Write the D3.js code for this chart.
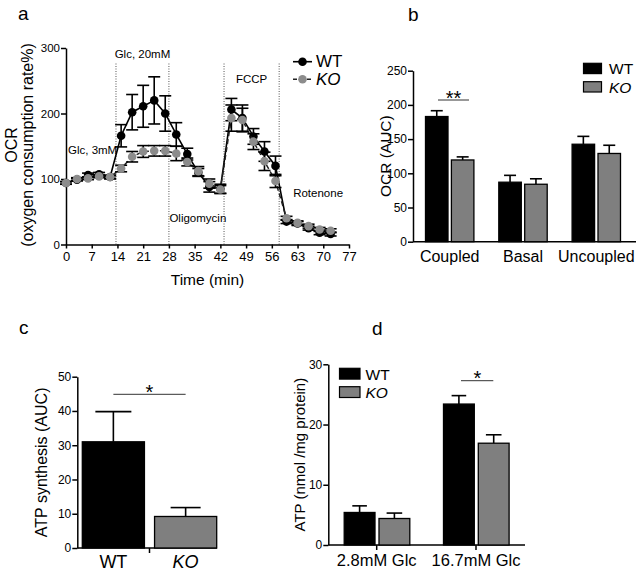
<!DOCTYPE html>
<html><head><meta charset="utf-8">
<script src="https://cdn.jsdelivr.net/npm/d3@7"></script>
<style>
body{margin:0;background:#fff}
svg{display:block;font-family:"Liberation Sans",Arial,Helvetica,sans-serif}
</style>
</head><body>
<svg id="chart" width="640" height="574"></svg>
<script>
// ---------- Panel a data ----------
const timeA   = [0,3,6,9,12, 15,18,21,24,27, 30,33,36,39,42, 45,48,51,54,57, 60,63,66,69,72];
const wtA     = [94,99,106,107,103, 166,202,211,220,200, 168,138,110,88,85, 206,193,165,142,120, 35,32,25,18,16];
const wtErrA  = [2,2,3,3,3, 17,27,32,36,27, 18,9,6,8,7, 17,20,12,15,15, 3,3,3,3,3];
const koA     = [94,100,101,104,103, 116,134,142,143,143, 139,126,112,93,84, 193,190,157,127,97, 40,33,28,23,21];
const koErrA  = [2,2,2,2,2, 5,8,9,8,8, 11,6,7,7,6, 20,18,12,14,10, 3,3,3,3,3];
const xTicksA = [0,7,14,21,28,35,42,49,56,63,70,77];
const yTicksA = [0,100,200,300];
const eventTimesA = [13.6, 28, 43, 58];

// ---------- Panel b data ----------
const catsB   = ["Coupled","Basal","Uncoupled"];
const wtB     = [183, 87, 142.5];
const wtErrB  = [8.5, 10, 11.5];
const koB     = [119.5, 84, 129];
const koErrB  = [4.5, 8, 12];
const yTicksB = [0,50,100,150,200,250];

// ---------- Panel c data ----------
const catsC   = ["WT","KO"];
const valsC   = [31, 9.2];
const errC    = [8.8, 2.6];
const yTicksC = [0,10,20,30,40,50];

// ---------- Panel d data ----------
const catsD   = ["2.8mM Glc","16.7mM Glc"];
const wtD     = [5.4, 23.4];
const wtErrD  = [1.1, 1.4];
const koD     = [4.4, 16.9];
const koErrD  = [0.9, 1.4];
const yTicksD = [0,10,20,30];

const BLACK = "#000", GREY = "#7f7f7f", MGREY = "#8c8c8c";
const FONT = '"Liberation Sans",Arial,Helvetica,sans-serif';
const svg = d3.select("#chart");

function styleAxis(g, fs){
  g.attr("font-family", FONT).attr("font-size", fs);
  g.select(".domain").attr("stroke", BLACK).attr("stroke-width", 1.5);
  g.selectAll(".tick line").attr("stroke", BLACK).attr("stroke-width", 1.5);
  g.selectAll(".tick text").attr("fill", BLACK);
}
function txt(g, x, y, s, fs, opts = {}){
  const t = g.append("text").attr("x", x).attr("y", y).attr("font-size", fs)
    .attr("fill", BLACK).attr("text-anchor", opts.anchor || "start").text(s);
  if (opts.italic) t.attr("font-style", "italic");
  if (opts.rot) t.attr("transform", `rotate(-90,${x},${y})`);
  return t;
}

// ================= Panel a =================
const xa = d3.scaleLinear().domain([0,77]).range([66,349]);
const ya = d3.scaleLinear().domain([0,300]).range([244.5,48]);
const gA = svg.append("g");

gA.selectAll("line.ev").data(eventTimesA).join("line")
  .attr("x1", d=>xa(d)).attr("x2", d=>xa(d))
  .attr("y1", ya(0)).attr("y2", ya(278))
  .attr("stroke", "#555").attr("stroke-width", 1).attr("stroke-dasharray", "1,1.5");

gA.append("g").attr("transform", `translate(0,${ya(0)})`)
  .call(d3.axisBottom(xa).tickValues(xTicksA).tickSize(4).tickSizeOuter(0).tickPadding(3))
  .call(g=>styleAxis(g,13));
gA.append("g").attr("transform", `translate(${xa(0)},0)`)
  .call(d3.axisLeft(ya).tickValues(yTicksA).tickSize(5).tickSizeOuter(0).tickPadding(1))
  .call(g=>styleAxis(g,11.5));

const ptsWT = timeA.map((t,i)=>({t, v:wtA[i], e:wtErrA[i]}));
const ptsKO = timeA.map((t,i)=>({t, v:koA[i], e:koErrA[i]}));
const lineA = d3.line().x(d=>xa(d.t)).y(d=>ya(d.v));

function errBars(g, pts, hw){
  g.selectAll(null).data(pts).join("line")
    .attr("x1", d=>xa(d.t)).attr("x2", d=>xa(d.t))
    .attr("y1", d=>ya(d.v-d.e)).attr("y2", d=>ya(d.v+d.e))
    .attr("stroke", BLACK).attr("stroke-width", 1.6);
  [1,-1].forEach(s=>{
    g.selectAll(null).data(pts).join("line")
      .attr("x1", d=>xa(d.t)-hw).attr("x2", d=>xa(d.t)+hw)
      .attr("y1", d=>ya(d.v+s*d.e)).attr("y2", d=>ya(d.v+s*d.e))
      .attr("stroke", BLACK).attr("stroke-width", 1.6);
  });
}
gA.append("path").datum(ptsWT).attr("d", lineA).attr("fill","none").attr("stroke",BLACK).attr("stroke-width",1.6);
errBars(gA.append("g"), ptsWT, 6);
gA.append("g").selectAll("circle").data(ptsWT).join("circle")
  .attr("cx", d=>xa(d.t)).attr("cy", d=>ya(d.v)).attr("r", 4.3).attr("fill", BLACK);
gA.append("path").datum(ptsKO).attr("d", lineA).attr("fill","none").attr("stroke","#222")
  .attr("stroke-width",1.5).attr("stroke-dasharray","5,3");
errBars(gA.append("g"), ptsKO, 6);
gA.append("g").selectAll("circle").data(ptsKO).join("circle")
  .attr("cx", d=>xa(d.t)).attr("cy", d=>ya(d.v)).attr("r", 4.3).attr("fill", MGREY);

txt(gA, xa(0)+2, ya(138), "Glc, 3mM", 11.5);
txt(gA, (xa(13.6)+xa(28))/2, ya(284), "Glc, 20mM", 11.5, {anchor:"middle"});
txt(gA, (xa(43)+xa(58))/2, ya(246), "FCCP", 11.5, {anchor:"middle"});
txt(gA, xa(28)+0.5, ya(35), "Oligomycin", 11.5);
txt(gA, xa(58)+14, ya(73), "Rotenone", 11.5);

[[61.7,"WT",BLACK,null,false],[79.3,"KO",MGREY,"4,3",true]].forEach(([y,lab,col,dash,it])=>{
  gA.append("line").attr("x1",293).attr("x2",312).attr("y1",y).attr("y2",y)
    .attr("stroke", dash? "#222":BLACK).attr("stroke-width",1.6).attr("stroke-dasharray",dash);
  gA.append("circle").attr("cx",302.5).attr("cy",y).attr("r",4.3).attr("fill",col);
  txt(gA, 316, y+5.5, lab, 17, {italic:it});
});

txt(gA, 17, 145, "OCR", 16, {anchor:"middle", rot:true});
txt(gA, 33, 145, "(oxygen consumption rate%)", 16, {anchor:"middle", rot:true});
txt(gA, (xa(0)+xa(77))/2, 285, "Time (min)", 15.5, {anchor:"middle"});
txt(svg, 18, 20, "a", 19);

// ================= Panel b =================
const yb = d3.scaleLinear().domain([0,250]).range([241.7,70.7]);
const xb = d3.scalePoint().domain(catsB).range([449.7,596.3]);
const gB = svg.append("g");
const bwB = 22.5, gapB = 1.7;

gB.append("g").attr("transform", `translate(413,0)`)
  .call(d3.axisLeft(yb).tickValues(yTicksB).tickSize(5).tickSizeOuter(0).tickPadding(1))
  .call(g=>styleAxis(g,12));
gB.append("line").attr("x1",413).attr("x2",636).attr("y1",yb(0)).attr("y2",yb(0))
  .attr("stroke",BLACK).attr("stroke-width",1.5);

function barsGrouped(g, cats, xs, ys, vals, errs, off, bw, fill, hw){
  cats.forEach((c,i)=>{
    const x0 = xs(c)+off;
    g.append("line").attr("x1",x0+bw/2).attr("x2",x0+bw/2)
      .attr("y1",ys(vals[i])).attr("y2",ys(vals[i]+errs[i])).attr("stroke",BLACK).attr("stroke-width",1.6);
    g.append("line").attr("x1",x0+bw/2-hw).attr("x2",x0+bw/2+hw)
      .attr("y1",ys(vals[i]+errs[i])).attr("y2",ys(vals[i]+errs[i])).attr("stroke",BLACK).attr("stroke-width",1.6);
    g.append("rect").attr("x",x0).attr("y",ys(vals[i])).attr("width",bw)
      .attr("height",ys(0)-ys(vals[i])).attr("fill",fill).attr("stroke",BLACK).attr("stroke-width",1.3);
  });
}
barsGrouped(gB, catsB, xb, yb, wtB, wtErrB, -gapB-bwB, bwB, BLACK, 6);
barsGrouped(gB, catsB, xb, yb, koB, koErrB, gapB, bwB, GREY, 6);
catsB.forEach(c=>txt(gB, xb(c), 262, c, 16, {anchor:"middle"}));

gB.append("line").attr("x1",438).attr("x2",469).attr("y1",100).attr("y2",100).attr("stroke","#333").attr("stroke-width",1);
txt(gB, 453.5, 104.7, "**", 20, {anchor:"middle"});

[[63.3,"WT",BLACK,false],[81.7,"KO",GREY,true]].forEach(([y,lab,col,it])=>{
  gB.append("rect").attr("x",583.5).attr("y",y).attr("width",18).attr("height",10.3)
    .attr("fill",col).attr("stroke",BLACK).attr("stroke-width",1.2);
  txt(gB, 609, y+10.8, lab, 15.5, {italic:it});
});
txt(gB, 391, (yb(0)+yb(250))/2, "OCR (AUC)", 15.5, {anchor:"middle", rot:true});
txt(svg, 408, 21, "b", 19);

// ================= Panel c =================
const yc = d3.scaleLinear().domain([0,50]).range([548,376.7]);
const xc = d3.scaleBand().domain(catsC).range([82.3,216.7]).paddingInner(0.14).paddingOuter(0);
const gC = svg.append("g");
gC.append("g").attr("transform", `translate(77.3,0)`)
  .call(d3.axisLeft(yc).tickValues(yTicksC).tickSize(5).tickSizeOuter(0).tickPadding(1))
  .call(g=>styleAxis(g,12));
gC.append("line").attr("x1",77.3).attr("x2",217).attr("y1",yc(0)).attr("y2",yc(0))
  .attr("stroke",BLACK).attr("stroke-width",1.5);
const midC = (xc("WT")+xc.bandwidth()+xc("KO"))/2;
gC.append("line").attr("x1",midC).attr("x2",midC).attr("y1",yc(0)).attr("y2",yc(0)+5)
  .attr("stroke",BLACK).attr("stroke-width",1.5);
catsC.forEach((c,i)=>{
  const cx = xc(c)+xc.bandwidth()/2;
  const hw = i===0 ? 18 : 15;
  gC.append("line").attr("x1",cx).attr("x2",cx).attr("y1",yc(valsC[i])).attr("y2",yc(valsC[i]+errC[i]))
    .attr("stroke",BLACK).attr("stroke-width",1.6);
  gC.append("line").attr("x1",cx-hw).attr("x2",cx+hw).attr("y1",yc(valsC[i]+errC[i])).attr("y2",yc(valsC[i]+errC[i]))
    .attr("stroke",BLACK).attr("stroke-width",1.6);
  gC.append("rect").attr("x",xc(c)).attr("y",yc(valsC[i])).attr("width",xc.bandwidth())
    .attr("height",yc(0)-yc(valsC[i])).attr("fill", i===0?BLACK:GREY).attr("stroke",BLACK).attr("stroke-width",1.3);
  txt(gC, cx, 568, c, 18, {anchor:"middle", italic:i===1});
});
gC.append("line").attr("x1",xc("WT")+xc.bandwidth()/2).attr("x2",xc("KO")+xc.bandwidth()/2)
  .attr("y1",394.3).attr("y2",394.3).attr("stroke","#333").attr("stroke-width",1);
txt(gC, midC, 399, "*", 20, {anchor:"middle"});
txt(gC, 47, (yc(0)+yc(50))/2, "ATP synthesis (AUC)", 16, {anchor:"middle", rot:true});
txt(svg, 19, 334, "c", 19);

// ================= Panel d =================
const yd = d3.scaleLinear().domain([0,30]).range([545,364.3]);
const xd = d3.scalePoint().domain(catsD).range([376.7,476]);
const gD = svg.append("g");
gD.append("g").attr("transform", `translate(328.3,0)`)
  .call(d3.axisLeft(yd).tickValues(yTicksD).tickSize(5).tickSizeOuter(0).tickPadding(1))
  .call(g=>styleAxis(g,12));
gD.append("line").attr("x1",328.3).attr("x2",525).attr("y1",yd(0)).attr("y2",yd(0))
  .attr("stroke",BLACK).attr("stroke-width",1.5);
catsD.forEach(c=>{
  gD.append("line").attr("x1",xd(c)).attr("x2",xd(c)).attr("y1",yd(0)).attr("y2",yd(0)+5)
    .attr("stroke",BLACK).attr("stroke-width",1.5);
  txt(gD, xd(c), 565.5, c, 16.5, {anchor:"middle"});
});
const bwD = 30.8;
barsGrouped(gD, catsD, xd, yd, wtD, wtErrD, -1.7-bwD, bwD, BLACK, 7.3);
barsGrouped(gD, catsD, xd, yd, koD, koErrD, 2.3, bwD, GREY, 7.8);
gD.append("line").attr("x1",461).attr("x2",493.3).attr("y1",380.7).attr("y2",380.7).attr("stroke","#333").attr("stroke-width",1);
txt(gD, 477.5, 384.7, "*", 20, {anchor:"middle"});
[[368.3,"WT",BLACK,false],[386.7,"KO",GREY,true]].forEach(([y,lab,col,it])=>{
  gD.append("rect").attr("x",339.5).attr("y",y).attr("width",20.5).attr("height",10.8)
    .attr("fill",col).attr("stroke",BLACK).attr("stroke-width",1.2);
  txt(gD, 365.5, y+11.2, lab, 15.5, {italic:it});
});
txt(gD, 305, (yd(0)+yd(30))/2, "ATP (nmol /mg protein)", 15, {anchor:"middle", rot:true});
txt(svg, 372, 335, "d", 19);
</script>
</body></html>
